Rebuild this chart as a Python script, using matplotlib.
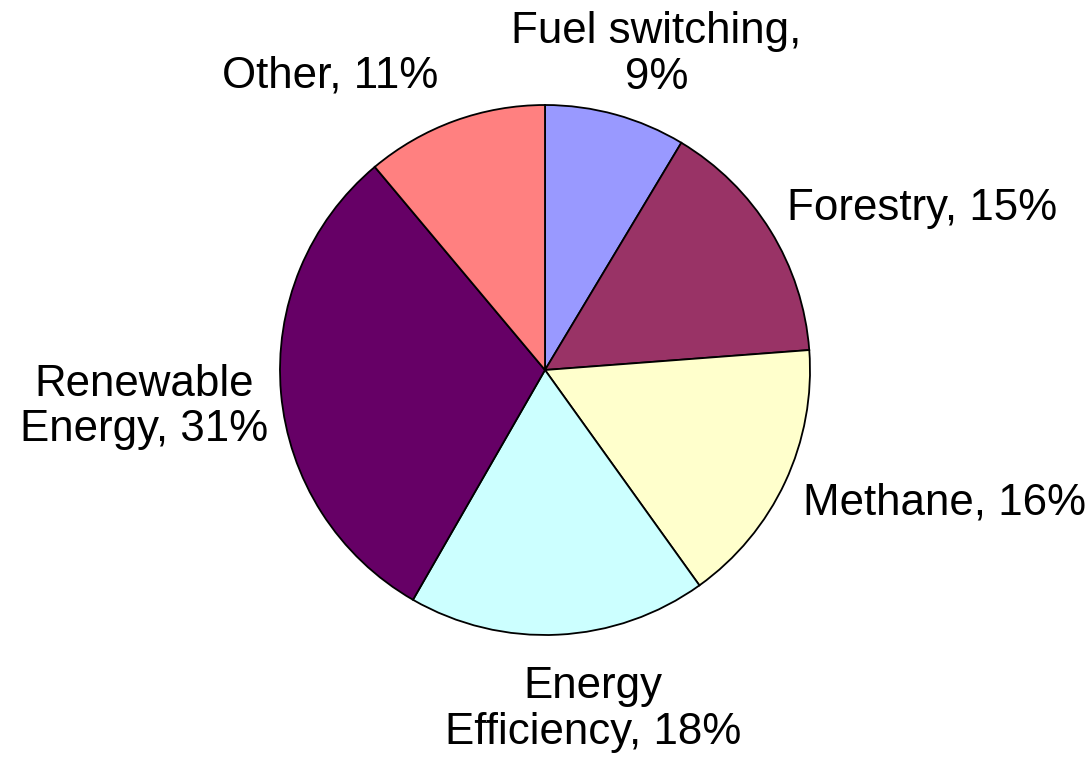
import matplotlib.pyplot as plt

plt.rcParams['font.family'] = ['Liberation Sans', 'DejaVu Sans']

# Data (slice sizes, labels show rounded percentages)
categories = ["Fuel switching", "Forestry", "Methane", "Energy\nEfficiency",
              "Renewable\nEnergy", "Other"]
shares = [8.6, 15.2, 16.3, 18.2, 30.6, 11.1]
colors = ["#9999FF", "#993366", "#FFFFCC", "#CCFFFF", "#660066", "#FF8080"]

# label layout (in pie radius units) and alignment
label_pos = [(0.42, 1.19), (0.915, 0.61), (0.975, -0.50), (0.18, -1.28),
             (-1.045, -0.14), (-0.81, 1.11)]
label_ha = ["center", "left", "left", "center", "right", "center"]

fig = plt.figure(figsize=(10.9, 7.62), dpi=100)
ax = fig.add_axes([(545 - 265) / 1090, (762 - 370 - 265) / 762, 530 / 1090, 530 / 762])

wedges, _ = ax.pie(shares, colors=colors, startangle=90, counterclock=False,
                   wedgeprops=dict(edgecolor="black", linewidth=1.3))
ax.set_xlim(-1, 1)
ax.set_ylim(-1, 1)
ax.set_aspect("equal")
ax.axis("off")

for name, val, (x, y), ha in zip(categories, shares, label_pos, label_ha):
    if name == "Fuel switching":
        txt = f"{name},\n{round(val)}%"
    else:
        txt = f"{name}, {round(val)}%"
    ax.text(x, y, txt, ha=ha, va="center", fontsize=31.6, multialignment="center",
            linespacing=1.15, clip_on=False)

fig.savefig("out.png", dpi=100)
